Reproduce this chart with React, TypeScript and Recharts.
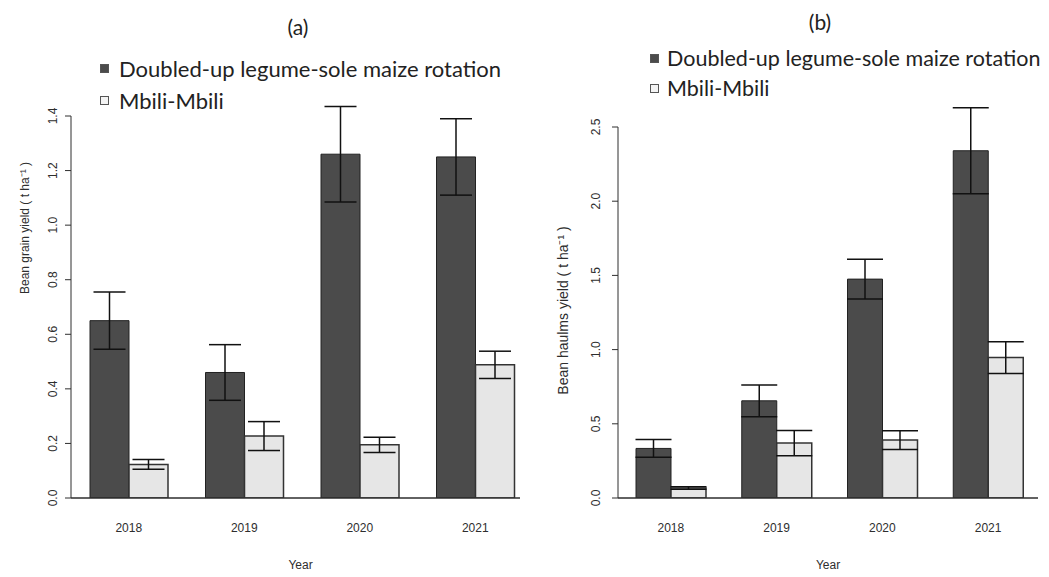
import React from 'react'
import { BarChart, Bar, XAxis, YAxis, ErrorBar, Legend } from 'recharts'

const years = ['2018', '2019', '2020', '2021']
const seriesNames = ['Doubled-up legume-sole maize rotation', 'Mbili-Mbili']

// (a) bean grain yield
const grainDoubled = [0.65, 0.46, 1.26, 1.25]
const grainDoubledErr = [0.105, 0.102, 0.175, 0.14]
const grainMbili = [0.123, 0.227, 0.195, 0.488]
const grainMbiliErr = [0.018, 0.053, 0.028, 0.05]
const grainTicks = [0, 0.2, 0.4, 0.6, 0.8, 1.0, 1.2, 1.4]

// (b) bean haulms yield
const haulmsDoubled = [0.334, 0.655, 1.475, 2.34]
const haulmsDoubledErr = [0.06, 0.107, 0.134, 0.29]
const haulmsMbili = [0.067, 0.37, 0.39, 0.946]
const haulmsMbiliErr = [0.008, 0.085, 0.064, 0.107]
const haulmsTicks = [0, 0.5, 1.0, 1.5, 2.0, 2.5]

const DARK = '#4b4b4b'
const LIGHT = '#e6e6e6'
const INK = '#2e2e2e'
const AXIS_FONT = '"Liberation Sans", Arial, sans-serif'
const TEXT_FONT = 'Lato, "Open Sans", sans-serif'

const buildRows = (doubled: number[], doubledErr: number[], mbili: number[], mbiliErr: number[]) =>
  years.map((year, i) => ({
    year,
    doubled: doubled[i],
    doubledErr: doubledErr[i],
    mbili: mbili[i],
    mbiliErr: mbiliErr[i],
  }))

const grainRows = buildRows(grainDoubled, grainDoubledErr, grainMbili, grainMbiliErr)
const haulmsRows = buildRows(haulmsDoubled, haulmsDoubledErr, haulmsMbili, haulmsMbiliErr)

const YTick = ({ x, y, payload, shift }: any) => {
  const tx = x - shift
  return (
    <text x={tx} y={y} transform={`rotate(-90, ${tx}, ${y})`} textAnchor="middle" fontSize={12} fill={INK} fontFamily={AXIS_FONT}>
      {Number(payload.value).toFixed(1)}
    </text>
  )
}

const XTick = ({ x, y, payload }: any) => (
  <text x={x} y={y + 34} textAnchor="middle" fontSize={12} fill={INK} fontFamily={AXIS_FONT}>
    {payload.value}
  </text>
)

const yTitle = (text: string, dx: number, dy: number, size: number) => ({ viewBox }: any) => {
  const cx = viewBox.x + dx
  const cy = viewBox.y + viewBox.height / 2 + dy
  return (
    <text x={cx} y={cy} transform={`rotate(-90, ${cx}, ${cy})`} textAnchor="middle" dominantBaseline="central" fontSize={size} fill={INK} fontFamily={AXIS_FONT}>
      {text}
    </text>
  )
}

const xTitle = (dx: number) => ({ viewBox }: any) => (
  <text x={viewBox.x + viewBox.width / 2 + dx} y={viewBox.y + 67} textAnchor="middle" dominantBaseline="central" fontSize={12} fill={INK} fontFamily={AXIS_FONT}>
    Year
  </text>
)

const LegendRows = ({ payload, gap, size, rowHeight }: any) => (
  <div style={{ fontFamily: TEXT_FONT, fontSize: size, color: '#222' }}>
    {(payload || []).map((entry: any, i: number) => (
      <div key={entry.value} style={{ display: 'flex', alignItems: 'center', height: rowHeight, whiteSpace: 'nowrap' }}>
        <span
          style={{
            display: 'inline-block',
            width: 7,
            height: 7,
            background: i === 0 ? DARK : '#f4f4f4',
            border: '1px solid #555',
            marginRight: gap,
          }}
        />
        {entry.value}
      </div>
    ))}
  </div>
)

interface PanelProps {
  rows: ReturnType<typeof buildRows>
  ticks: number[]
  width: number
  margin: { top: number; right: number; bottom: number; left: number }
  padRight: number
  barSize: number
  capWidth: number
  tickShift: number
  title: string
  titleSize: number
  titleDx: number
  titleDy: number
  yearDx: number
  legendLeft: number
  legendTop: number
  legendGap: number
  legendSize: number
  legendRow: number
}

function Panel(p: PanelProps) {
  return (
    <BarChart width={p.width} height={577} data={p.rows} margin={p.margin} barGap={0}>
      <XAxis
        dataKey="year"
        tickLine={false}
        tickSize={0}
        tickMargin={0}
        height={30}
        padding={{ left: 0, right: p.padRight }}
        tick={<XTick />}
        axisLine={{ stroke: INK, strokeWidth: 1.5 }}
        label={xTitle(p.yearDx)}
      />
      <YAxis
        domain={[0, p.ticks[p.ticks.length - 1]]}
        ticks={p.ticks}
        allowDataOverflow
        width={40}
        tickSize={6}
        tickMargin={0}
        tick={<YTick shift={p.tickShift} />}
        tickLine={{ stroke: INK }}
        axisLine={{ stroke: INK }}
        label={yTitle(p.title, p.titleDx, p.titleDy, p.titleSize)}
      />
      <Legend
        layout="horizontal"
        verticalAlign="middle"
        align="center"
        content={<LegendRows gap={p.legendGap} size={p.legendSize} rowHeight={p.legendRow} />}
        wrapperStyle={{ left: p.legendLeft, top: p.legendTop, width: 'auto' }}
      />
      <Bar dataKey="doubled" name={seriesNames[0]} fill={DARK} stroke="#222" strokeWidth={1} barSize={p.barSize} isAnimationActive={false}>
        <ErrorBar dataKey="doubledErr" width={p.capWidth} stroke="#111" strokeWidth={1.5} direction="y" isAnimationActive={false} />
      </Bar>
      <Bar dataKey="mbili" name={seriesNames[1]} fill={LIGHT} stroke="#333" strokeWidth={1.5} barSize={p.barSize} isAnimationActive={false}>
        <ErrorBar dataKey="mbiliErr" width={p.capWidth} stroke="#111" strokeWidth={1.5} direction="y" isAnimationActive={false} />
      </Bar>
    </BarChart>
  )
}

const panelTitle = (left: number, top: number): React.CSSProperties => ({
  position: 'absolute',
  left,
  top,
  transform: 'translate(-50%, -50%)',
  fontFamily: TEXT_FONT,
  fontSize: 21,
  color: '#222',
  lineHeight: 1,
})

export default function App() {
  return (
    <div style={{ position: 'absolute', left: 0, top: 0, width: 1049, height: 577, background: '#fff', overflow: 'hidden' }}>
      <div style={panelTitle(298, 26)}>(a)</div>
      <div style={panelTitle(820, 21)}>(b)</div>
      <div style={{ position: 'absolute', left: 0, top: 0 }}>
        <Panel
          rows={grainRows}
          ticks={grainTicks}
          width={545}
          margin={{ top: 116, right: 25, bottom: 49, left: 31 }}
          padRight={-13}
          barSize={39}
          capWidth={16}
          tickShift={8}
          title="Bean grain yield ( t ha⁻¹ )"
          titleSize={12}
          titleDx={-6}
          titleDy={-79}
          yearDx={5}
          legendLeft={100}
          legendTop={52}
          legendGap={10}
          legendSize={22}
          legendRow={32}
        />
      </div>
      <div style={{ position: 'absolute', left: 540, top: 0 }}>
        <Panel
          rows={haulmsRows}
          ticks={haulmsTicks}
          width={509}
          margin={{ top: 127, right: 11, bottom: 49, left: 38 }}
          padRight={-3}
          barSize={35}
          capWidth={18}
          tickShift={12}
          title="Bean haulms yield ( t ha⁻¹ )"
          titleSize={14}
          titleDx={-15}
          titleDy={-2}
          yearDx={0}
          legendLeft={110}
          legendTop={43}
          legendGap={8}
          legendSize={21.5}
          legendRow={30}
        />
      </div>
    </div>
  )
}
